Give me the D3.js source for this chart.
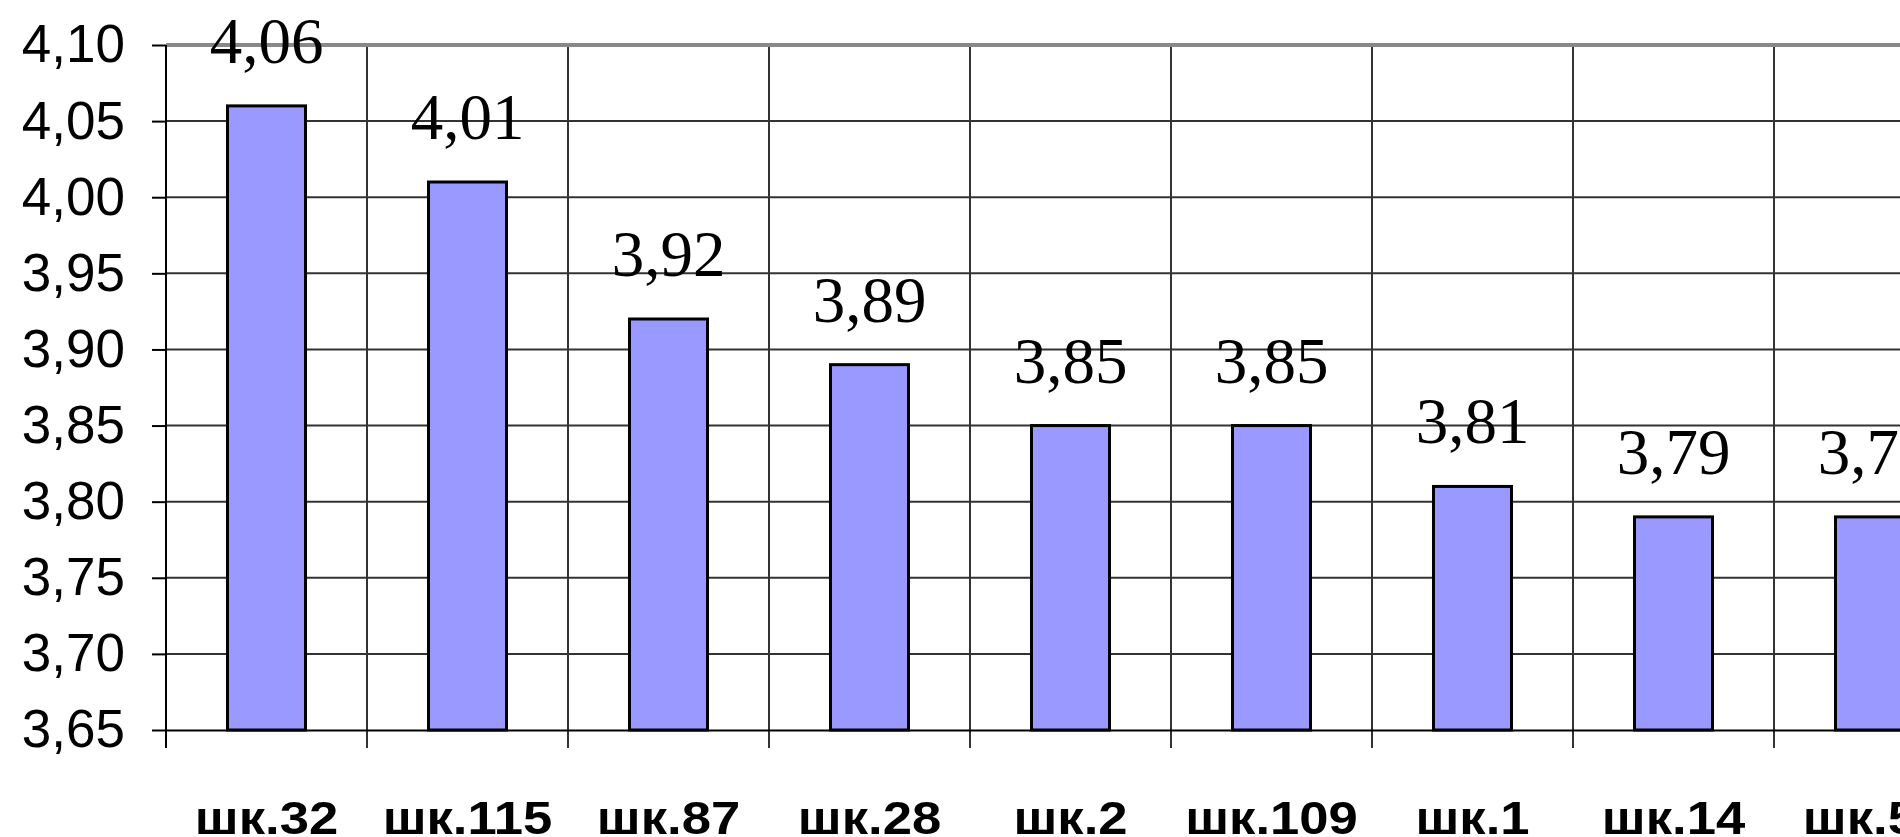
<!DOCTYPE html>
<html>
<head>
<meta charset="utf-8">
<script src="https://cdn.jsdelivr.net/npm/d3@7"></script>
<style>
  html, body { margin: 0; padding: 0; background: #fff; overflow: hidden; }
  svg { display: block; }
</style>
</head>
<body>
<script>
'use strict';

// data
var schools = ['шк.32', 'шк.115', 'шк.87', 'шк.28', 'шк.2', 'шк.109', 'шк.1', 'шк.14', 'шк.57'];
var scores = [4.06, 4.01, 3.92, 3.89, 3.85, 3.85, 3.81, 3.79, 3.79];
var yTicks = [3.65, 3.70, 3.75, 3.80, 3.85, 3.90, 3.95, 4.00, 4.05, 4.10];

var chartW = 1900,
  chartH = 837,
  plotLeft = 166,
  step = 201,
  plotTop = 45,
  plotBottom = 730,
  barW = 78;

var comma = function(d) { return d.toFixed(2).replace('.', ','); };

var svg = d3.select('body').append('svg')
  .attr('width', chartW)
  .attr('height', chartH);

var x = d3.scaleBand()
  .domain(schools)
  .range([plotLeft, plotLeft + step * schools.length]);

var y = d3.scaleLinear()
  .domain([3.65, 4.10])
  .range([plotBottom, plotTop]);

// horizontal grid
svg.append('g').selectAll('line')
  .data(yTicks.slice(1, -1))
  .enter().append('line')
  .attr('x1', plotLeft).attr('x2', chartW)
  .attr('y1', function(d) { return y(d); })
  .attr('y2', function(d) { return y(d); })
  .attr('stroke', '#333')
  .attr('stroke-width', 2);

// vertical grid + ticks under the baseline
svg.append('g').selectAll('line')
  .data(schools.slice(1))
  .enter().append('line')
  .attr('x1', function(d) { return x(d); })
  .attr('x2', function(d) { return x(d); })
  .attr('y1', y(4.10))
  .attr('y2', plotBottom + 18)
  .attr('stroke', '#333')
  .attr('stroke-width', 2);

// top border
svg.append('line')
  .attr('x1', plotLeft).attr('x2', chartW)
  .attr('y1', y(4.10)).attr('y2', y(4.10))
  .attr('stroke', '#888')
  .attr('stroke-width', 4);

// y axis
var yAxis = svg.append('g')
  .attr('transform', 'translate(' + plotLeft + ',0)')
  .call(d3.axisLeft(y).tickValues(yTicks).tickSize(14).tickPadding(27).tickFormat(comma));

yAxis.select('.domain').remove();
yAxis.selectAll('.tick line').attr('stroke', '#000').attr('stroke-width', 2);
yAxis.selectAll('.tick text')
  .attr('font-family', 'Liberation Sans, Arial, sans-serif')
  .attr('font-size', 53)
  .attr('fill', '#000');

svg.append('line')
  .attr('x1', plotLeft).attr('x2', plotLeft)
  .attr('y1', y(4.10)).attr('y2', plotBottom + 18)
  .attr('stroke', '#000')
  .attr('stroke-width', 2);

// x axis
var xAxis = svg.append('g')
  .attr('transform', 'translate(0,' + plotBottom + ')')
  .call(d3.axisBottom(x).tickSize(0).tickPadding(0));

xAxis.select('.domain').attr('stroke', '#000').attr('stroke-width', 2);
xAxis.selectAll('.tick text')
  .attr('y', 104)
  .attr('dy', 0)
  .attr('transform', 'scale(1.12,1)')
  .attr('font-family', 'Liberation Sans, Arial, sans-serif')
  .attr('font-weight', 'bold')
  .attr('font-size', 47)
  .attr('fill', '#000');

// bars
svg.append('g').selectAll('rect')
  .data(scores)
  .enter().append('rect')
  .attr('x', function(d, i) { return x(schools[i]) + (x.bandwidth() - barW) / 2; })
  .attr('y', function(d) { return y(d); })
  .attr('width', barW)
  .attr('height', function(d) { return plotBottom - y(d); })
  .attr('fill', '#9999ff')
  .attr('stroke', '#000')
  .attr('stroke-width', 3);

// value labels
svg.append('g').selectAll('text')
  .data(scores)
  .enter().append('text')
  .attr('x', function(d, i) { return x(schools[i]) + x.bandwidth() / 2; })
  .attr('y', function(d) { return y(d) - 43; })
  .attr('text-anchor', 'middle')
  .attr('font-family', 'Liberation Serif, Times New Roman, serif')
  .attr('font-size', 65)
  .attr('fill', '#000')
  .text(comma);
</script>
</body>
</html>
